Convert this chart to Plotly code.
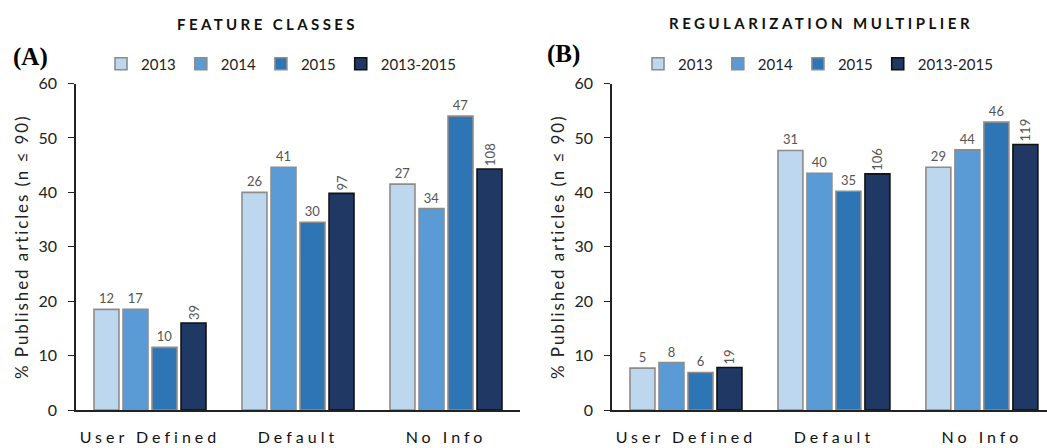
import plotly.graph_objects as go

categories = ["User Defined", "Default", "No Info"]
series_names = ["2013", "2014", "2015", "2013-2015"]
fill_colors = ["#BDD7EE", "#5B9BD5", "#2E75B6", "#1F3864"]
line_colors = ["#8C8C8C", "#8C8C8C", "#8C8C8C", "#111111"]

# Panel A: Feature classes (% of articles, with counts as labels)
fc_2013 = [18.5, 40.0, 41.5]
fc_2014 = [18.5, 44.6, 37.0]
fc_2015 = [11.5, 34.5, 54.0]
fc_all = [16.0, 39.8, 44.3]
fc_2013_n = [12, 26, 27]
fc_2014_n = [17, 41, 34]
fc_2015_n = [10, 30, 47]
fc_all_n = [39, 97, 108]

# Panel B: Regularization multiplier
rm_2013 = [7.7, 47.7, 44.6]
rm_2014 = [8.7, 43.5, 47.8]
rm_2015 = [6.9, 40.2, 52.9]
rm_all = [7.8, 43.4, 48.8]
rm_2013_n = [5, 31, 29]
rm_2014_n = [8, 40, 44]
rm_2015_n = [6, 35, 46]
rm_all_n = [19, 106, 119]

yticks = [0, 10, 20, 30, 40, 50, 60]
ytitle = '<span style="letter-spacing:1.9px">% Published articles (n \u2264 90)</span>'
FONT = "Lato"
W, H = 1047, 448

fig = go.Figure()

panels = [
    ("x", "y", "legend", [fc_2013, fc_2014, fc_2015, fc_all], [fc_2013_n, fc_2014_n, fc_2015_n, fc_all_n]),
    ("x2", "y2", "legend2", [rm_2013, rm_2014, rm_2015, rm_all], [rm_2013_n, rm_2014_n, rm_2015_n, rm_all_n]),
]

for xa, ya, lg, vals, labs in panels:
    for i, name in enumerate(series_names):
        fig.add_trace(go.Bar(
            x=categories, y=vals[i], name=name,
            xaxis=xa, yaxis=ya, legend=lg,
            marker=dict(color=fill_colors[i], line=dict(color=line_colors[i], width=1.6)),
            text=[str(v) for v in labs[i]],
            textposition="outside",
            textangle=-90 if i == 3 else 0,
            textfont=dict(family=FONT, size=13, color="#555555"),
            cliponaxis=False,
            hoverinfo="skip",
        ))

tick_text = ['<span style="letter-spacing:4px">%s</span>' % c for c in categories]

xcommon = dict(
    type="category",
    showline=True, linecolor="#222222", linewidth=1.5, ticks="",
    tickvals=categories, ticktext=tick_text, ticklabelstandoff=12,
    tickfont=dict(family=FONT, size=16, color="#111111"),
    showgrid=False, zeroline=False,
)
ycommon = dict(
    range=[0, 60], tickvals=yticks, showline=True, linecolor="#222222", linewidth=1.5,
    ticks="outside", ticklen=6, tickcolor="#222222", ticklabelstandoff=8,
    tickfont=dict(family=FONT, size=16, color="#222222"),
    showgrid=False, zeroline=False,
    title=dict(text=ytitle, font=dict(family=FONT, size=17, color="#222222"), standoff=6),
)

legend_common = dict(orientation="h", yanchor="middle", xanchor="left",
                     font=dict(family=FONT, size=15, color="#222222"),
                     bgcolor="rgba(0,0,0,0)", itemclick=False, itemdoubleclick=False)

fig.update_layout(
    width=W, height=H,
    margin=dict(l=0, r=0, t=0, b=0, autoexpand=False),
    paper_bgcolor="white", plot_bgcolor="white",
    barmode="group", bargap=0.216, bargroupgap=0.14,
    xaxis=dict(domain=[76 / W, 520 / W], anchor="y", range=[-0.5, 2.5], **xcommon),
    yaxis=dict(domain=[1 - 410 / H, 1 - 83.5 / H], anchor="x", **ycommon),
    xaxis2=dict(domain=[612 / W, 1.0], anchor="y2", range=[-0.5, 2.44], **xcommon),
    yaxis2=dict(domain=[1 - 410 / H, 1 - 83.5 / H], anchor="x2", **ycommon),
    legend=dict(x=101 / W, y=1 - 64 / H, **legend_common),
    legend2=dict(x=638 / W, y=1 - 64 / H, **legend_common),
    showlegend=True,
    annotations=[
        dict(text='<span style="letter-spacing:3.4px"><b>FEATURE CLASSES</b></span>',
             x=267 / W, y=1 - 24 / H, xref="paper", yref="paper", showarrow=False,
             xanchor="center", yanchor="middle",
             font=dict(family=FONT, size=15, color="#111111")),
        dict(text='<span style="letter-spacing:3.5px"><b>REGULARIZATION MULTIPLIER</b></span>',
             x=821 / W, y=1 - 22.5 / H, xref="paper", yref="paper", showarrow=False,
             xanchor="center", yanchor="middle",
             font=dict(family=FONT, size=15, color="#111111")),
        dict(text="<b>(A)</b>", x=30 / W, y=1 - 57 / H, xref="paper", yref="paper", showarrow=False,
             xanchor="center", yanchor="middle",
             font=dict(family="Liberation Serif", size=25, color="#000000")),
        dict(text="<b>(B)</b>", x=563 / W, y=1 - 54 / H, xref="paper", yref="paper", showarrow=False,
             xanchor="center", yanchor="middle",
             font=dict(family="Liberation Serif", size=25, color="#000000")),
    ],
)

fig.write_html("out.html", config={"displayModeBar": False},
               post_script="document.body.style.margin='0px';document.body.style.padding='0px';")
